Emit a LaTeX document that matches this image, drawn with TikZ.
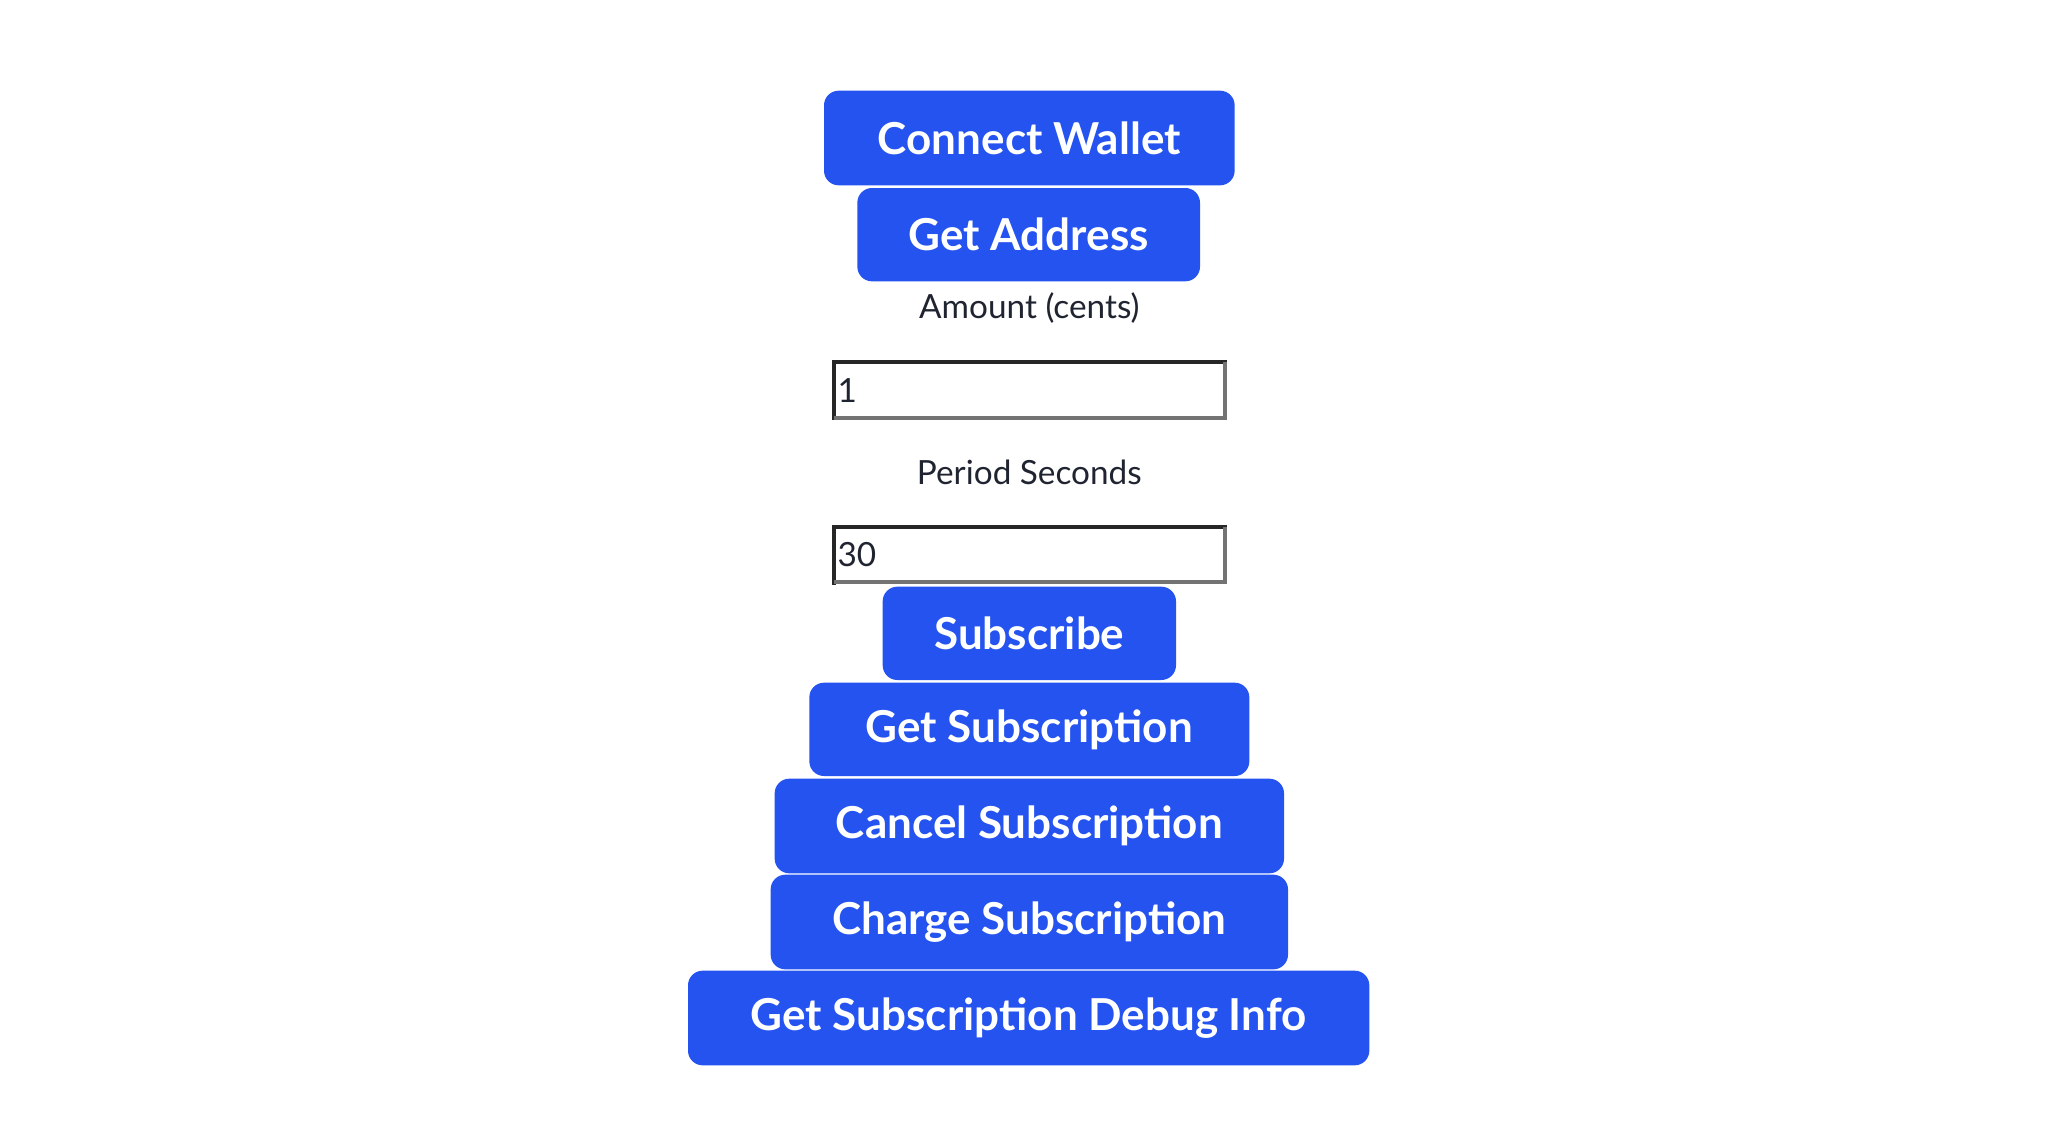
\documentclass[tikz,border=0pt]{standalone}
\usepackage{fontspec}
\setmainfont{Lato}
\definecolor{btn}{HTML}{2453F0}
\definecolor{txt}{HTML}{1F2430}
\begin{document}
\begin{tikzpicture}[x=1pt,y=-1pt,
  btnbox/.style={fill=btn,rounded corners=11pt,text=white,font=\fontsize{33}{36}\selectfont\bfseries},
  lbl/.style={text=txt,font=\fontsize{25}{28}\selectfont}]
\useasboundingbox (0,0) rectangle (1548,846);
\newcommand{\btnat}[6]{\fill[btn,rounded corners=11pt] (#1,#3) rectangle (#2,#4);
  \node[text=white,font=\fontsize{33}{36}\selectfont\bfseries] (#5) at ({(#1+#2)/2},{(#3+#4)/2}) {#6};}
\btnat{618}{926}{68}{139}{cw}{Connect Wallet}
\btnat{643}{900}{141}{211}{ga}{Get Address}
\node[lbl] (al) at (772,231) {Amount (cents)};
\fill[white] (624,270) rectangle (920,315);
\draw[line width=3pt,black!85] (920,271.5)--(625.5,271.5)--(625.5,315);
\draw[line width=3pt,black!55] (625.5,313.5)--(918.5,313.5)--(918.5,271.5);
\node[lbl,anchor=west,inner sep=0pt] (a1) at (628,293) {1};
\node[lbl] (pl) at (772,354) {Period Seconds};
\draw[line width=3pt,black!85] (920,395.5)--(625.5,395.5)--(625.5,439);
\draw[line width=3pt,black!55] (625.5,436.5)--(918.5,436.5)--(918.5,395.5);
\node[lbl,anchor=west,inner sep=0pt] (p1) at (628,416) {30};
\btnat{662}{882}{440}{510}{sb}{Subscribe}
\btnat{607}{937}{512}{582}{gs}{Get Subscription}
\btnat{581}{963}{584}{655}{cs}{Cancel Subscription}
\btnat{578}{966}{656}{727}{chs}{Charge Subscription}
\btnat{516}{1027}{728}{799}{gd}{Get Subscription Debug Info}
\end{tikzpicture}
\end{document}
